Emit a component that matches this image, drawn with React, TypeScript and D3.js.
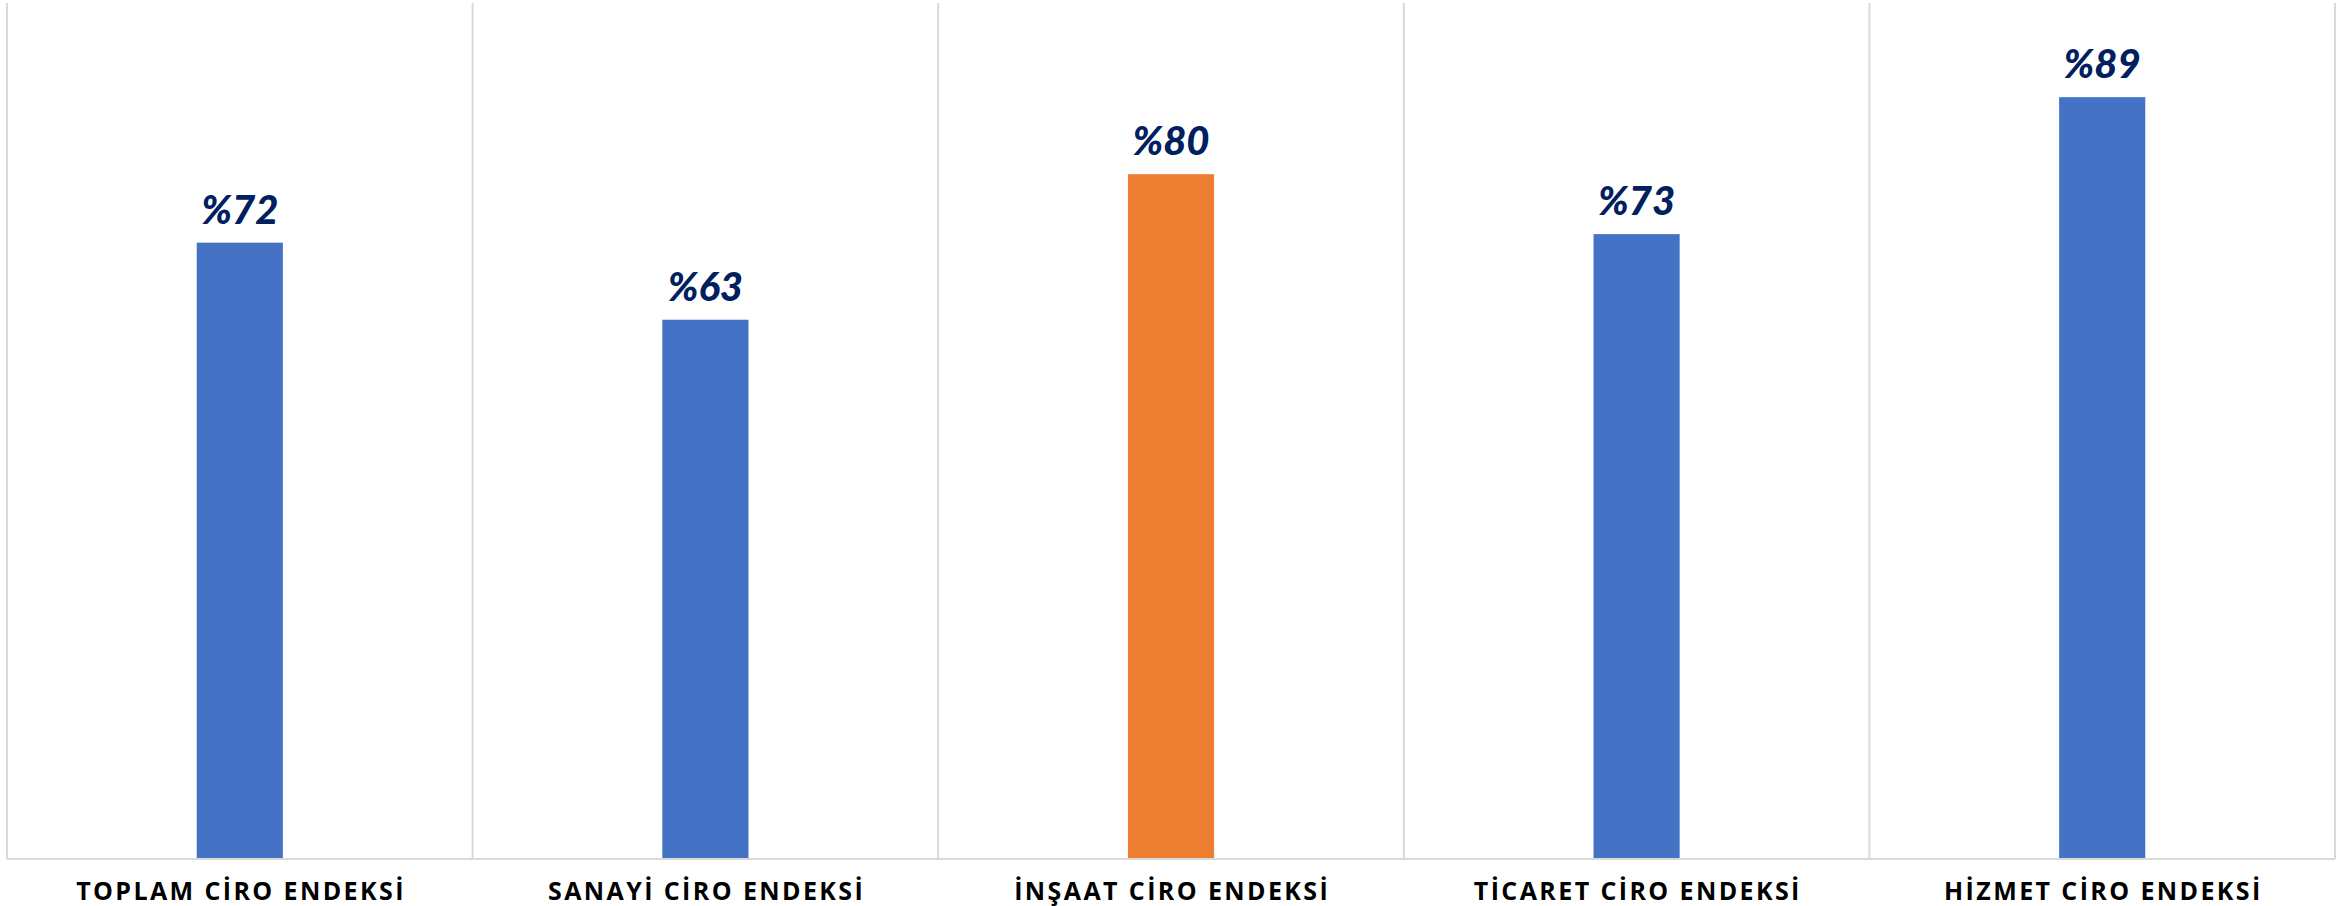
import { useEffect } from "react";
import * as d3 from "d3";

const categories = [
  "TOPLAM CİRO ENDEKSİ",
  "SANAYİ CİRO ENDEKSİ",
  "İNŞAAT CİRO ENDEKSİ",
  "TİCARET CİRO ENDEKSİ",
  "HİZMET CİRO ENDEKSİ",
];
const values = [72, 63, 80, 73, 89];
const highlighted = ["İNŞAAT CİRO ENDEKSİ"];

const width = 2351;
const height = 906;
const plotLeft = 7;
const plotRight = 2335;
const plotTop = 3;
const plotBottom = 859;
const labelSpacing = 2.4;

const App = () => {
  useEffect(() => {
    document.body.style.margin = "0";
  }, []);

  const x = d3
    .scaleBand<string>()
    .domain(categories)
    .range([plotLeft, plotRight])
    .paddingInner(0)
    .paddingOuter(0);
  const barWidth = x.bandwidth() * 0.185;
  const y = d3.scaleLinear().domain([0, 100]).range([plotBottom, plotTop]);

  return (
    <svg width={width} height={height} style={{ display: "block", background: "#fff" }}>
      {/* vertical separators */}
      {[...categories.map((c) => x(c) as number), plotRight].map((gx, i) => (
        <line
          key={"g" + i}
          x1={gx}
          x2={gx}
          y1={plotTop}
          y2={plotBottom}
          stroke="#d9d9d9"
          strokeWidth={2}
        />
      ))}
      {/* bottom axis */}
      <line
        x1={plotLeft}
        x2={plotRight}
        y1={plotBottom}
        y2={plotBottom}
        stroke="#d9d9d9"
        strokeWidth={2}
      />
      {categories.map((c, i) => {
        const cx = (x(c) as number) + x.bandwidth() / 2;
        return (
          <g key={c}>
            <rect
              x={cx - barWidth / 2}
              y={y(values[i])}
              width={barWidth}
              height={y(0) - y(values[i]) - 1}
              fill={highlighted.includes(c) ? "#ed7d31" : "#4472c4"}
            />
            <text
              x={cx}
              y={y(values[i]) - 19}
              textAnchor="middle"
              fill="#002060"
              fontFamily="Lato, sans-serif"
              fontWeight={900}
              fontStyle="italic"
              fontSize={40}
            >
              %{values[i]}
            </text>
            <text
              x={cx + labelSpacing / 2}
              y={900}
              textAnchor="middle"
              fill="#000"
              fontFamily="'Open Sans', sans-serif"
              fontWeight={700}
              fontSize={25}
              letterSpacing={labelSpacing}
            >
              {c}
            </text>
          </g>
        );
      })}
    </svg>
  );
};

export default App;
